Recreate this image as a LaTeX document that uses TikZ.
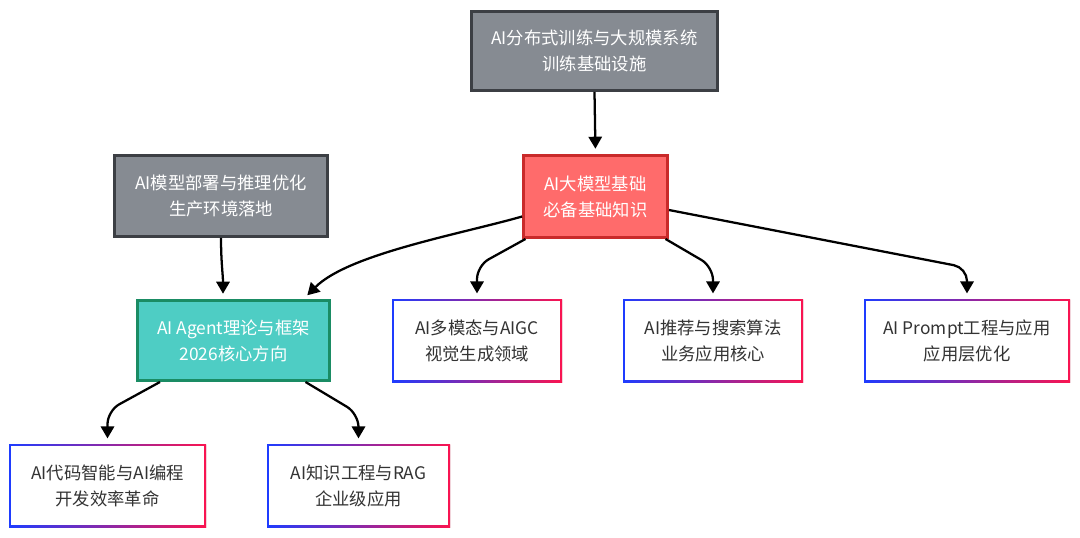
\documentclass[tikz,border=0pt]{standalone}
\usepackage{fontspec}
\setmainfont{Noto Sans CJK SC}
\usetikzlibrary{arrows.meta,calc,shadows}
\definecolor{grayfill}{RGB}{134,139,146}
\definecolor{grayline}{RGB}{60,63,68}
\definecolor{redfill}{RGB}{255,107,107}
\definecolor{redline}{RGB}{201,42,42}
\definecolor{tealfill}{RGB}{78,205,196}
\definecolor{tealline}{RGB}{26,140,100}
\definecolor{gblue}{RGB}{30,60,255}
\definecolor{gred}{RGB}{250,20,80}
\definecolor{txt}{RGB}{51,51,51}
\begin{document}
\begin{tikzpicture}[x=0.75pt,y=0.75pt,
  base/.style={align=center,font=\fontsize{13}{19.5}\selectfont,inner sep=0pt,
    drop shadow={opacity=0.12,shadow xshift=0.8pt,shadow yshift=-0.8pt}},
  solidbox/.style={base,draw,line width=2.2pt,text=white},
  graybox/.style={solidbox,fill=grayfill,draw=grayline},
  redbox/.style={solidbox,fill=redfill,draw=redline},
  tealbox/.style={solidbox,fill=tealfill,draw=tealline},
  gradbox/.style={base,fill=white,text=txt,minimum height=62.25pt,
    path picture={
      \shade[left color=gblue,right color=gred]
        (path picture bounding box.south west) rectangle (path picture bounding box.north east);
      \fill[white]
        ([shift={(1.8pt,1.8pt)}]path picture bounding box.south west) rectangle
        ([shift={(-1.8pt,-1.8pt)}]path picture bounding box.north east);
    }},
  arr/.style={line width=1.7pt,-{Triangle[width=10pt,length=9pt]},shorten >=4pt,rounded corners=10pt}
]
\useasboundingbox (0,0) rectangle (1080,-537);

\node[graybox,minimum width=184.5pt,minimum height=59.25pt] (t) at (594.5,-51) {AI分布式训练与大规模系统\\训练基础设施};
\node[redbox,minimum width=108pt,minimum height=61.5pt] (r) at (595.5,-196.5) {AI大模型基础\\必备基础知识};
\node[graybox,minimum width=159.75pt,minimum height=60.75pt] (g2) at (221,-196) {AI模型部署与推理优化\\生产环境落地};
\node[tealbox,minimum width=144pt,minimum height=60pt] (a) at (233.5,-340.5) {AI Agent理论与框架\\2026核心方向};

\node[gradbox,minimum width=127.5pt] (m) at (477,-340.5) {AI多模态与AIGC\\视觉生成领域};
\node[gradbox,minimum width=135pt] (s) at (713,-340.5) {AI推荐与搜索算法\\业务应用核心};
\node[gradbox,minimum width=154.5pt] (p) at (967,-340.5) {AI Prompt工程与应用\\应用层优化};
\node[gradbox,minimum width=147.75pt] (c) at (107.5,-485.5) {AI代码智能与AI编程\\开发效率革命};
\node[gradbox,minimum width=137.25pt] (k) at (358.5,-485.5) {AI知识工程与RAG\\企业级应用};

\draw[arr] (t.south) -- (r.north);
\draw[arr] (g2.south) to[out=-90,in=90] ($(a.north)+(-10.5,0)$);
\draw[arr] ($(r.west)+(0,-20)$) to[out=196,in=45,looseness=0.7] ($(a.north)+(70,0)$);
\draw[arr] ($(r.south)+(-70,0)$) -- ($(m.north)+(0,33)$) -- (m.north);
\draw[arr] ($(r.south)+(70,0)$) -- ($(s.north)+(0,32)$) -- (s.north);
\draw[arr] ($(r.east)+(0,-13.5)$) -- ($(p.north)+(0,31)$) -- (p.north);
\draw[arr] ($(a.south)+(-73.5,0)$) -- ($(c.north)+(0,33)$) -- (c.north);
\draw[arr] ($(a.south)+(72,0)$) -- ($(k.north)+(0,30)$) -- (k.north);
\end{tikzpicture}
\end{document}
